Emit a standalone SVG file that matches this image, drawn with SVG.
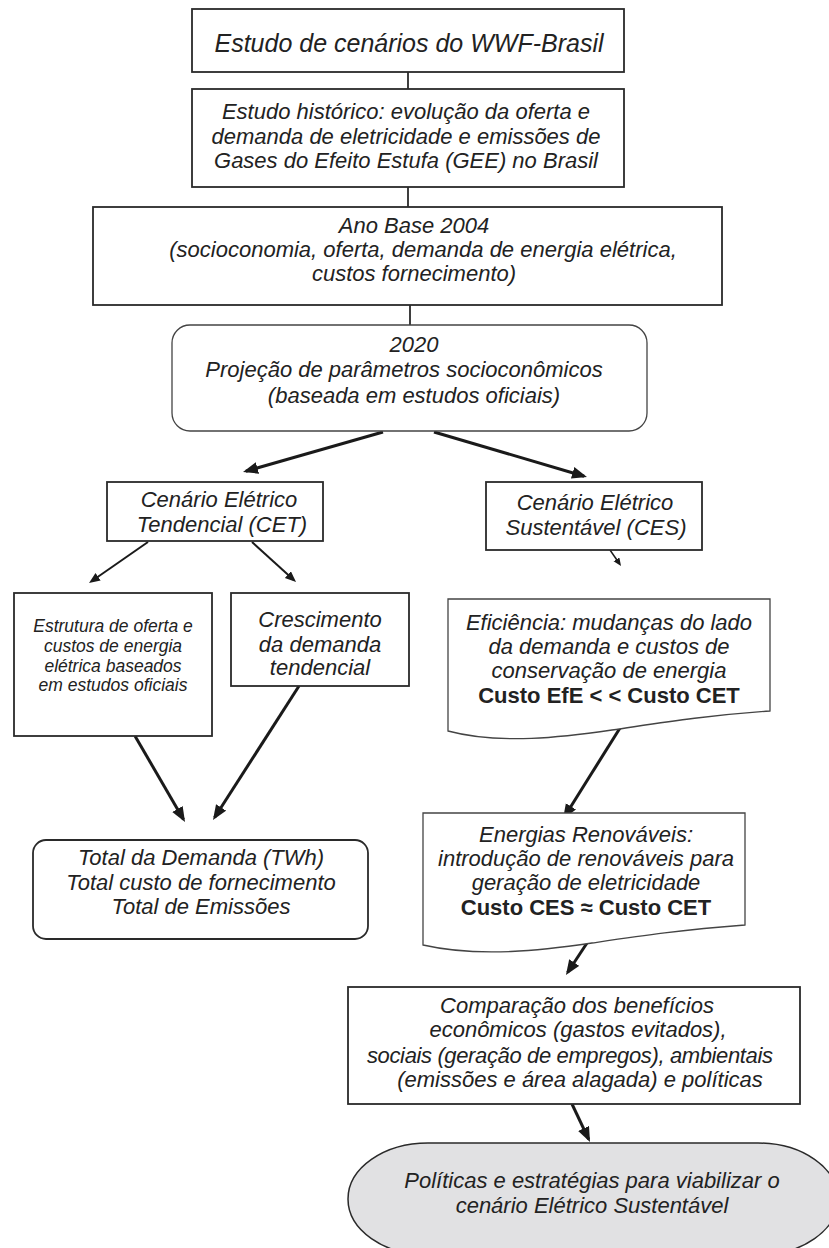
<svg xmlns="http://www.w3.org/2000/svg" width="829" height="1248" viewBox="0 0 829 1248">
<style>
  .box { fill: #ffffff; stroke: #2a2a2a; stroke-width: 1.8; }
  .thin { fill: #ffffff; stroke: #444444; stroke-width: 1.3; }
  .term { fill: #e1e1e3; stroke: #2a2a2a; stroke-width: 1.5; }
  text { font-family: "Liberation Sans", Arial, sans-serif; font-size: 22px; font-style: italic; fill: #222222; text-anchor: middle; }
  .title { font-size: 25px; }
  .small { font-size: 17.5px; }
  .bold { font-style: normal; font-weight: bold; }
  .ln { stroke: #2a2a2a; stroke-width: 1.8; fill: none; }
  .a3 { stroke: #1a1a1a; stroke-width: 3; fill: none; marker-end: url(#big); }
  .a2 { stroke: #1a1a1a; stroke-width: 2; fill: none; marker-end: url(#mid); }
  .a1 { stroke: #1a1a1a; stroke-width: 1.5; fill: none; marker-end: url(#tiny); }
</style>
<defs>
  <marker id="big" markerUnits="userSpaceOnUse" markerWidth="16" markerHeight="13" refX="12" refY="6" orient="auto">
    <path d="M0,0 L15,6 L0,12 Z" fill="#1a1a1a"/>
  </marker>
  <marker id="mid" markerUnits="userSpaceOnUse" markerWidth="12" markerHeight="10" refX="8" refY="4.5" orient="auto">
    <path d="M0,0 L11,4.5 L0,9 Z" fill="#1a1a1a"/>
  </marker>
  <marker id="tiny" markerUnits="userSpaceOnUse" markerWidth="9" markerHeight="8" refX="5" refY="3.5" orient="auto">
    <path d="M0,0 L8,3.5 L0,7 Z" fill="#1a1a1a"/>
  </marker>
</defs>
<rect width="829" height="1248" fill="#ffffff"/>

<g id="connectors">
  <line class="ln" x1="408" y1="72" x2="408" y2="89"/>
  <line class="ln" x1="408" y1="187" x2="408" y2="207"/>
  <line class="ln" x1="410" y1="305" x2="410" y2="325"/>
  <line class="a3" x1="383" y1="432" x2="245.9" y2="471.2"/>
  <line class="a3" x1="434" y1="432" x2="584.1" y2="476.2"/>
  <line class="a2" x1="148" y1="542" x2="91.5" y2="581.3"/>
  <line class="a2" x1="252" y1="542" x2="293.8" y2="580"/>
  <line class="a1" x1="610" y1="550" x2="619.3" y2="563.5"/>
  <line class="a3" x1="135" y1="736" x2="183.5" y2="819.4"/>
  <line class="a3" x1="299" y1="686" x2="214.6" y2="817.5"/>
  <line class="a3" x1="620" y1="728" x2="564.6" y2="816.5"/>
  <line class="a3" x1="587" y1="943" x2="567.6" y2="972.5"/>
  <line class="a3" x1="572" y1="1104" x2="588.7" y2="1139.3"/>
</g>

<g id="n1">
  <rect class="box" x="192" y="9" width="432" height="63"/>
  <text class="title" x="409" y="52">Estudo de cenários do WWF-Brasil</text>
</g>

<g id="n2">
  <rect class="box" x="192" y="89" width="432" height="98"/>
  <text x="406" y="119">Estudo histórico: evolução da oferta e</text>
  <text x="406" y="144">demanda de eletricidade e emissões  de</text>
  <text x="406" y="168">Gases do Efeito Estufa (GEE) no Brasil</text>
</g>

<g id="n3">
  <rect class="box" x="93" y="207" width="629" height="98"/>
  <text x="414" y="233">Ano Base 2004</text>
  <text x="423" y="257">(socioconomia, oferta, demanda de energia elétrica,</text>
  <text x="414" y="281">custos fornecimento)</text>
</g>

<g id="n4">
  <rect class="thin" x="172" y="325" width="475" height="106" rx="18" ry="18"/>
  <text x="414" y="352">2020</text>
  <text x="404" y="377">Projeção de parâmetros socioconômicos</text>
  <text x="414" y="403">(baseada em estudos oficiais)</text>
</g>

<g id="n5">
  <rect class="box" x="107" y="482" width="216" height="59"/>
  <text x="219" y="507">Cenário Elétrico</text>
  <text x="222" y="532">Tendencial (CET)</text>
</g>

<g id="n6">
  <rect class="box" x="486" y="482" width="216" height="68"/>
  <text x="595" y="510">Cenário Elétrico</text>
  <text x="596" y="535">Sustentável (CES)</text>
</g>

<g id="n7">
  <rect class="box" x="14" y="593" width="198" height="143"/>
  <text class="small" x="113" y="632">Estrutura de oferta e</text>
  <text class="small" x="113" y="652">custos de energia</text>
  <text class="small" x="113" y="672">elétrica baseados</text>
  <text class="small" x="113" y="691">em estudos oficiais</text>
</g>

<g id="n8">
  <rect class="box" x="231" y="593" width="178" height="93"/>
  <text x="320" y="627">Crescimento</text>
  <text x="320" y="652">da demanda</text>
  <text x="320" y="675">tendencial</text>
</g>

<g id="n9">
  <path class="thin" d="M448,599 H770 V711 C700,716 660,723 612,730 S500,745 448,731 Z"/>
  <text x="609" y="630">Eficiência: mudanças do lado</text>
  <text x="609" y="654">da demanda e custos de</text>
  <text x="609" y="678">conservação de energia</text>
  <text class="bold" x="609" y="703">Custo EfE &lt; &lt; Custo CET</text>
</g>

<g id="n10">
  <rect class="box" x="33" y="840" width="335" height="99" rx="13" ry="13"/>
  <text x="201" y="865">Total da Demanda (TWh)</text>
  <text x="201" y="890">Total custo de fornecimento</text>
  <text x="201" y="914">Total de Emissões</text>
</g>

<g id="n11">
  <path class="thin" d="M423,813 H745 V925 C680,930 640,936 592,943 S480,958 423,945 Z"/>
  <text x="586" y="842">Energias Renováveis:</text>
  <text x="586" y="866">introdução de renováveis para</text>
  <text x="586" y="890">geração de eletricidade</text>
  <text class="bold" x="586" y="915">Custo CES ≈ Custo CET</text>
</g>

<g id="n12">
  <rect class="box" x="348" y="987" width="452" height="117"/>
  <text x="577" y="1013">Comparação dos benefícios</text>
  <text x="578" y="1037">econômicos (gastos evitados),</text>
  <text x="570" y="1063" textLength="406" lengthAdjust="spacing">sociais (geração de empregos), ambientais</text>
  <text x="580" y="1087">(emissões e área alagada) e políticas</text>
</g>

<g id="n13">
  <rect class="term" x="348" y="1143" width="490" height="112" rx="80" ry="56"/>
  <text x="592" y="1188">Políticas e estratégias para viabilizar o</text>
  <text x="592" y="1213">cenário Elétrico Sustentável</text>
</g>
</svg>
